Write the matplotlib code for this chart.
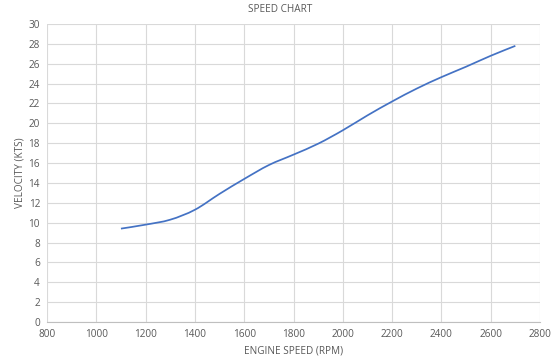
import numpy as np
import matplotlib
matplotlib.use("Agg")
import matplotlib.pyplot as plt
from matplotlib.path import Path
from matplotlib.patches import PathPatch

rpm = [1100, 1200, 1300, 1400, 1500, 1600, 1700, 1800, 1900, 2000, 2100, 2200, 2300, 2400, 2500, 2600, 2700]
kts = [9.4, 9.8, 10.3, 11.3, 12.9, 14.4, 15.8, 16.85, 17.95, 19.3, 20.8, 22.2, 23.5, 24.65, 25.7, 26.8, 27.8]
x_ticks = [800, 1000, 1200, 1400, 1600, 1800, 2000, 2200, 2400, 2600, 2800]
y_ticks = list(range(0, 31, 2))

plt.rcParams['font.family'] = ['Open Sans', 'DejaVu Sans']
txt = '#595959'

fig = plt.figure(figsize=(5.51, 3.61), dpi=100)
ax = fig.add_axes([47/551, 1-322/361, (540-47)/551, (322-24)/361])

# Excel-style smoothed line: cubic Bezier through points
x = np.array(rpm, float); y = np.array(kts, float)
n = len(x)
verts = [(x[0], y[0])]
codes = [Path.MOVETO]
for i in range(n-1):
    p0 = np.array([x[max(i-1, 0)], y[max(i-1, 0)]])
    p1 = np.array([x[i], y[i]])
    p2 = np.array([x[i+1], y[i+1]])
    p3 = np.array([x[min(i+2, n-1)], y[min(i+2, n-1)]])
    c1 = p1 + (p2 - p0) / 6
    c2 = p2 - (p3 - p1) / 6
    verts += [tuple(c1), tuple(c2), tuple(p2)]
    codes += [Path.CURVE4] * 3
ax.add_patch(PathPatch(Path(verts, codes), fill=False, edgecolor='#4472C4', lw=1.25, zorder=3))

ax.set_xlim(800, 2800)
ax.set_ylim(0, 30)
ax.set_xticks(x_ticks)
ax.set_yticks(y_ticks)
ax.grid(True, color='#D9D9D9', lw=0.8)
ax.set_axisbelow(True)
for s in ['top', 'right', 'left']:
    ax.spines[s].set_visible(False)
ax.spines['bottom'].set_color('#BFBFBF')
ax.spines['bottom'].set_linewidth(0.8)
ax.tick_params(length=0, labelsize=7.2, labelcolor=txt, pad=5)

ax.set_xlabel('ENGINE SPEED (RPM)', fontsize=7.2, color=txt, labelpad=4)
ax.set_ylabel('VELOCITY (KTS)', fontsize=7.2, color=txt, labelpad=2)
fig.text(280/551, 1-10/361, 'SPEED CHART', ha='center', va='center', fontsize=7.2, color=txt)

fig.savefig('out.png', dpi=100, facecolor='white')
